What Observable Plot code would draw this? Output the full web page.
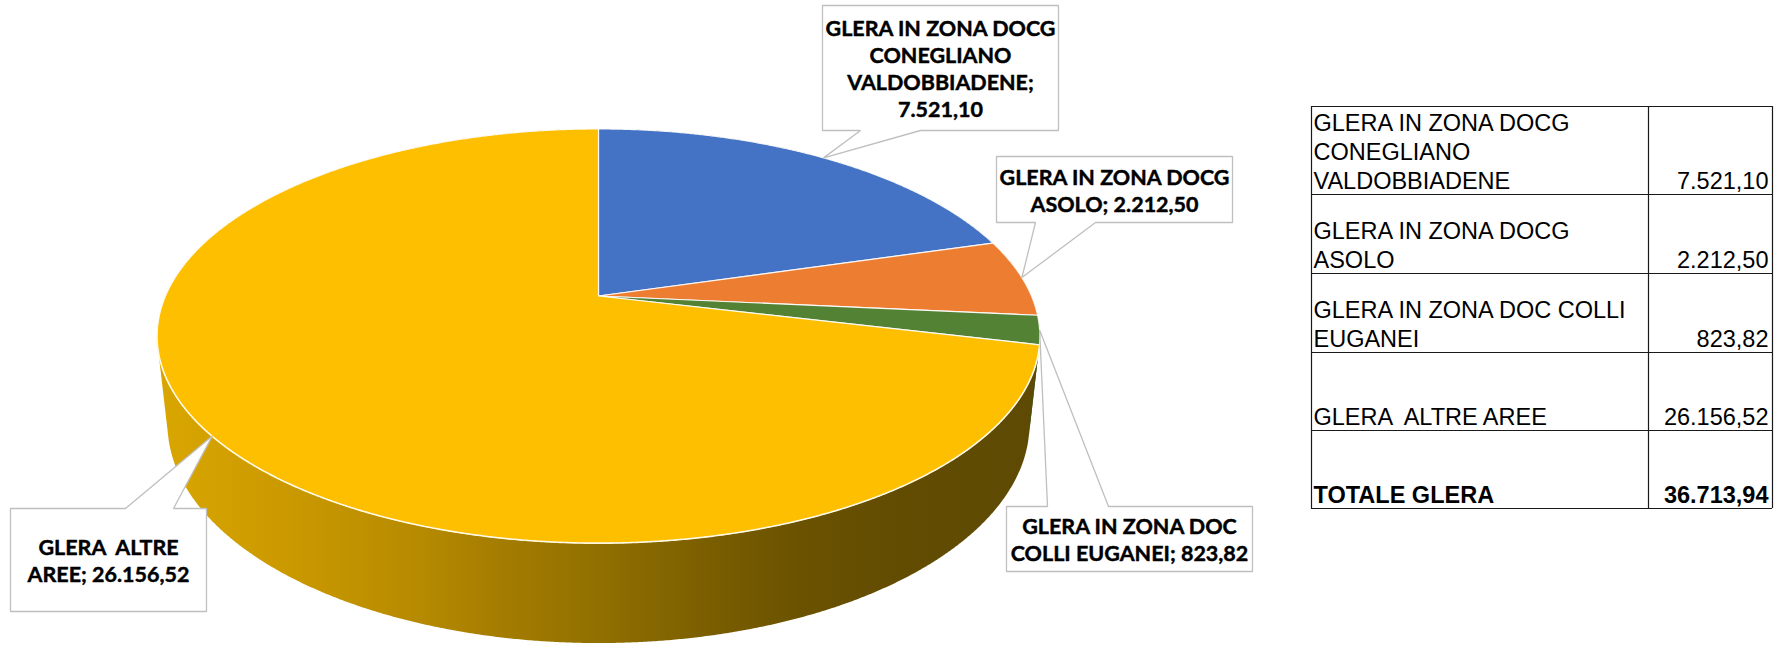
<!DOCTYPE html>
<html>
<head>
<meta charset="utf-8">
<script src="https://cdn.jsdelivr.net/npm/d3@7"></script>
<script src="https://cdn.jsdelivr.net/npm/@observablehq/plot@0.6"></script>
<style>
  html, body { margin: 0; padding: 0; background: #fff; }
  #chart svg text { white-space: pre; }
</style>
</head>
<body>
<div id="chart"></div>
<script>
// ---------------- DATA ----------------
const categories = [
  "GLERA IN ZONA DOCG CONEGLIANO VALDOBBIADENE",
  "GLERA IN ZONA DOCG ASOLO",
  "GLERA IN ZONA DOC COLLI EUGANEI",
  "GLERA  ALTRE AREE"
];
const values = [7521.10, 2212.50, 823.82, 26156.52];
const sliceColors = ["#4472C4", "#ED7D31", "#548235", "#FDBF00"];
const sideColors = ["#2F4F8A", "#A5561F", "#35551F", "url(#sideGrad)"];
// data-label text as wrapped in the chart ({v} = formatted value)
const pieLabelTemplates = [
  "GLERA IN ZONA DOCG\nCONEGLIANO\nVALDOBBIADENE;\n{v}",
  "GLERA IN ZONA DOCG\nASOLO; {v}",
  "GLERA IN ZONA DOC\nCOLLI EUGANEI; {v}",
  "GLERA  ALTRE\nAREE; {v}"
];
// table row labels as wrapped in the table
const tableLabels = [
  "GLERA IN ZONA DOCG\nCONEGLIANO\nVALDOBBIADENE",
  "GLERA IN ZONA DOCG\nASOLO",
  "GLERA IN ZONA DOC COLLI\nEUGANEI",
  "GLERA  ALTRE AREE"
];
const totalLabel = "TOTALE GLERA";

// ---------------- LAYOUT ----------------
const W = 1786, H = 646;
const pieGeom = {cx: 598, cy: 295.5, a: 433, b: 199.3, k: 0.193, depth: 0.231};
const callouts = [
  {x0: 822, y0: 5,   x1: 1058, y1: 130, side: "bottom", p1: 860,  p2: 920},
  {x0: 996, y0: 156, x1: 1232, y1: 222, side: "bottom", p1: 1035, p2: 1095},
  {x0: 1006, y0: 506, x1: 1252, y1: 571, side: "top",   p1: 1047, p2: 1108},
  {x0: 10,  y0: 508, x1: 206,  y1: 611, side: "top",    p1: 125,  p2: 173}
];
const tableCols = [1311, 1648, 1772];
const tableRowLines = [106, 194, 273, 352, 430, 508];

// ---------------- HELPERS ----------------
const it = d3.formatLocale({decimal: ",", thousands: ".", grouping: [3], currency: ["", ""]});
const fmt = it.format(",.2f");
const total = d3.sum(values);

const {cx, cy, a: A, b: B, k: K, depth: HD} = pieGeom;
const sinP = B / A, cosP = Math.sqrt(1 - sinP * sinP), L = cosP / K, F = A * L;
function proj(theta, z) {
  const x = Math.sin(theta), y = Math.cos(theta);
  const d = L + y * cosP - z * sinP;
  return [cx + F * x / d, cy - F * (y * sinP + z * cosP) / d];
}
const STEP = Math.PI / 720;
function arcPts(t0, t1, z) {
  const n = Math.max(2, Math.ceil(Math.abs(t1 - t0) / STEP));
  return d3.range(n + 1).map(j => proj(t0 + (t1 - t0) * j / n, z));
}

const arcs = d3.pie().sort(null).value(d => d)(values);

// top-face slices
const slicePts = arcs.flatMap((s, i) => {
  const pts = [[cx, cy], ...arcPts(s.startAngle, s.endAngle, 0), [cx, cy]];
  return pts.map(([x, y]) => ({i, x, y, fill: sliceColors[i]}));
});

// side wall: hull of top and bottom faces
const allPts = d3.range(0, 1440).flatMap(j => [proj(j * STEP, 0), proj(j * STEP, -HD)]);
const hull = d3.polygonHull(allPts);
const hullPts = [...hull, hull[0]].map(([x, y]) => ({x, y}));

// visible side slivers for the non-gradient slices
const tA = Math.acos(-K), tB = 2 * Math.PI - tA;
const sidePts = arcs.flatMap((s, i) => {
  if (i === 3) return [];
  const lo = Math.max(s.startAngle, tA), hi = Math.min(s.endAngle, tB);
  if (lo >= hi) return [];
  const pts = [...arcPts(lo, hi, 0), ...arcPts(hi, lo, -HD)];
  pts.push(pts[0]);
  return pts.map(([x, y]) => ({i, x, y, fill: sideColors[i]}));
});

// front rim highlight
const rimPts = arcPts(tA, tB, 0).map(([x, y]) => ({x, y}));

// callouts
const calloutPts = arcs.flatMap((s, i) => {
  const c = callouts[i];
  const tip = proj((s.startAngle + s.endAngle) / 2, 0);
  const pts = c.side === "bottom"
    ? [[c.x0, c.y0], [c.x1, c.y0], [c.x1, c.y1], [c.p2, c.y1], tip, [c.p1, c.y1], [c.x0, c.y1], [c.x0, c.y0]]
    : [[c.x0, c.y0], [c.p1, c.y0], tip, [c.p2, c.y0], [c.x1, c.y0], [c.x1, c.y1], [c.x0, c.y1], [c.x0, c.y0]];
  return pts.map(([x, y]) => ({i, x, y}));
});
const calloutText = values.map((v, i) => ({
  x: (callouts[i].x0 + callouts[i].x1) / 2,
  y: (callouts[i].y0 + callouts[i].y1) / 2,
  text: pieLabelTemplates[i].replace("{v}", fmt(v))
}));

// table
const tableRows = tableLabels.map((t, i) => ({label: t, value: fmt(values[i]), yb: tableRowLines[i + 1] - 6}));
const totalRow = [{label: totalLabel, value: fmt(total), yb: tableRowLines[5] - 6}];

const svg = Plot.plot({
  width: W,
  height: H,
  margin: 0,
  axis: null,
  x: {type: "identity"},
  y: {type: "identity"},
  color: {type: "identity"},
  style: {background: "#fff", overflow: "visible"},
  marks: [
    Plot.line(hullPts, {x: "x", y: "y", fill: "url(#sideGrad)", stroke: "none"}),
    Plot.line(sidePts, {x: "x", y: "y", z: "i", fill: "fill", stroke: "none"}),
    Plot.line(rimPts, {x: "x", y: "y", stroke: "#FFF3C4", strokeWidth: 2}),
    Plot.line(slicePts, {x: "x", y: "y", z: "i", fill: "fill", stroke: "#ffffff", strokeWidth: 1.2, strokeLinejoin: "round", strokeOpacity: 0.9}),
    Plot.line(calloutPts, {x: "x", y: "y", z: "i", fill: "#ffffff", stroke: "#BFBFBF", strokeWidth: 1.3, strokeLinejoin: "miter"}),
    Plot.text(calloutText, {x: "x", y: "y", text: "text", fontFamily: "Lato, 'Open Sans', sans-serif", fontWeight: "bold", fontSize: 21.5, lineHeight: 1.25, lineAnchor: "middle", textAnchor: "middle", fill: "#000", stroke: "#000", strokeWidth: 0.45}),
    // table grid
    Plot.ruleY(tableRowLines, {y: d => d, x1: tableCols[0], x2: tableCols[2], stroke: "#1a1a1a", strokeWidth: 1.2}),
    Plot.ruleX(tableCols, {x: d => d, y1: tableRowLines[0], y2: tableRowLines[5], stroke: "#1a1a1a", strokeWidth: 1.2}),
    // table text
    Plot.text(tableRows, {x: tableCols[0] + 2, y: "yb", text: "label", textAnchor: "start", lineAnchor: "bottom", fontFamily: "'Liberation Sans', Arial, sans-serif", fontSize: 23.5, lineHeight: 1.22, fill: "#000"}),
    Plot.text(tableRows, {x: tableCols[2] - 4, y: "yb", text: "value", textAnchor: "end", lineAnchor: "bottom", fontFamily: "'Liberation Sans', Arial, sans-serif", fontSize: 23.5, fill: "#000"}),
    Plot.text(totalRow, {x: tableCols[0] + 2, y: "yb", text: "label", textAnchor: "start", lineAnchor: "bottom", fontFamily: "'Liberation Sans', Arial, sans-serif", fontWeight: "bold", fontSize: 23.5, fill: "#000"}),
    Plot.text(totalRow, {x: tableCols[2] - 4, y: "yb", text: "value", textAnchor: "end", lineAnchor: "bottom", fontFamily: "'Liberation Sans', Arial, sans-serif", fontWeight: "bold", fontSize: 23.5, fill: "#000"})
  ]
});

// gradient for the side wall
const NS = "http://www.w3.org/2000/svg";
const defs = document.createElementNS(NS, "defs");
const grad = document.createElementNS(NS, "linearGradient");
grad.setAttribute("id", "sideGrad");
grad.setAttribute("gradientUnits", "userSpaceOnUse");
grad.setAttribute("x1", 158); grad.setAttribute("x2", 1040);
grad.setAttribute("y1", 0); grad.setAttribute("y2", 0);
[[158, "#D9A600"], [300, "#C99800"], [420, "#B68A00"], [500, "#A47C00"], [600, "#917000"], [700, "#7C5F00"], [800, "#6A5200"], [900, "#624C02"], [1040, "#5E4A04"]]
  .forEach(([x, c]) => {
    const s = document.createElementNS(NS, "stop");
    s.setAttribute("offset", ((x - 158) / (1040 - 158)).toFixed(4));
    s.setAttribute("stop-color", c);
    grad.appendChild(s);
  });
defs.appendChild(grad);
svg.insertBefore(defs, svg.firstChild);

document.getElementById("chart").appendChild(svg);
</script>
</body>
</html>
